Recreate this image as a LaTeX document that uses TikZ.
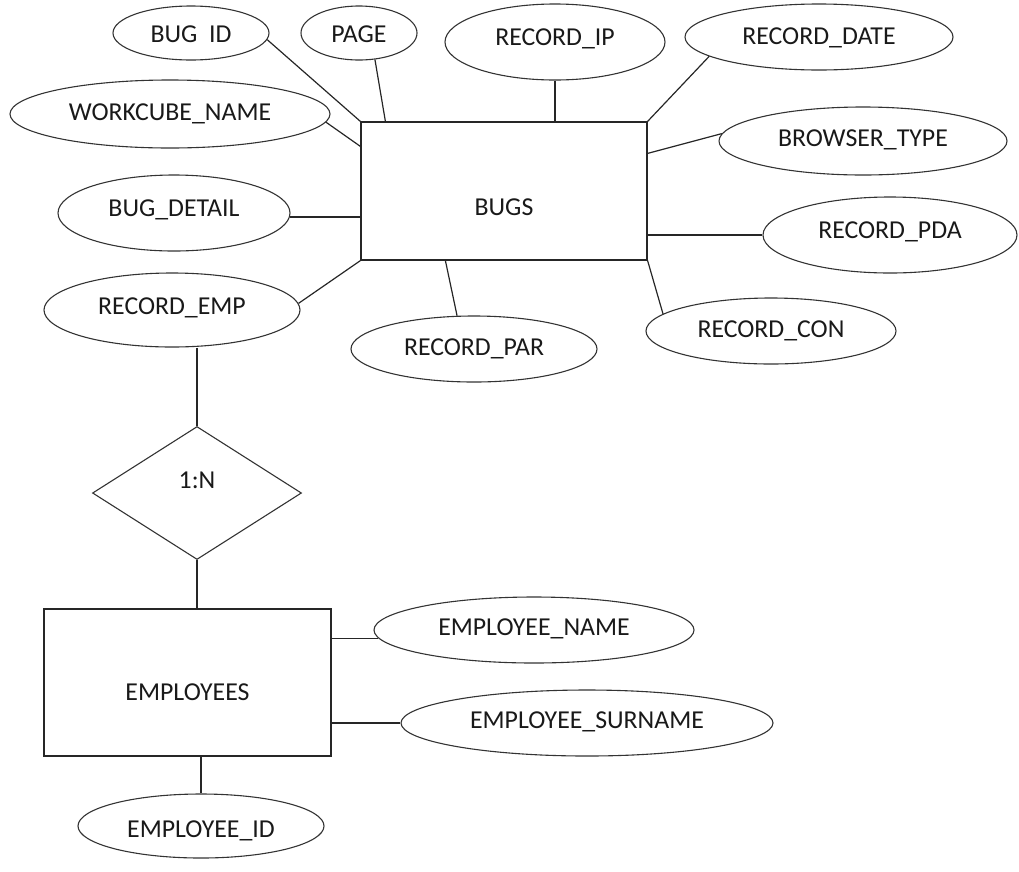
\documentclass[tikz,border=0pt]{standalone}
\usepackage{fontspec}
\setmainfont{Carlito}
\usetikzlibrary{shapes.geometric,calc}
\begin{document}
\begin{tikzpicture}[x=1pt,y=-1pt,
  every node/.style={font=\fontsize{25.8}{30}\selectfont, text=black!90},
  attr/.style={ellipse, draw=black!80, line width=1.1pt, inner sep=0pt, text height=13pt, text depth=2.3pt},
  ent/.style={rectangle, draw=black!85, line width=1.2pt, inner sep=0pt},
  rel/.style={diamond, draw=black!80, line width=1.1pt, inner sep=0pt, text height=0pt, text depth=8.3pt},
  conn/.style={draw=black!85, line width=1.2pt}]
\useasboundingbox (0,0) rectangle (1019,871);
% entities
\node[ent, minimum width=286pt, minimum height=138pt, text height=48.7pt, text depth=0pt] (bugs) at (504,191) {BUGS};
\node[ent, minimum width=287pt, minimum height=147pt, text height=36pt, text depth=0pt] (emp) at (187.5,682.5) {EMPLOYEES};
% relationship
\node[rel, minimum width=209pt, minimum height=133pt] (rel) at (197,493) {1:N};
% attributes
\node[attr, minimum width=156pt, minimum height=54pt, text height=22pt] (bugid) at (191,33) {BUG\hspace{0.45em}ID};
\node[attr, minimum width=116pt, minimum height=54pt, text height=22pt] (page) at (359,33) {PAGE};
\node[attr, minimum width=320pt, minimum height=68pt, text height=16pt] (wcn) at (170,114) {WORKCUBE\_NAME};
\node[attr, minimum width=232pt, minimum height=76pt, text height=10pt] (bd) at (174,213) {BUG\_DETAIL};
\node[attr, minimum width=256pt, minimum height=74pt, text height=12pt] (re) at (172,310) {RECORD\_EMP};
\node[attr, minimum width=246pt, minimum height=66pt, text height=16pt] (rpar) at (474,349) {RECORD\_PAR};
\node[attr, minimum width=220pt, minimum height=76pt, text height=10pt] (rip) at (555,42) {RECORD\_IP};
\node[attr, minimum width=268pt, minimum height=66pt, text height=18pt] (rdate) at (819,37) {RECORD\_DATE};
\node[attr, minimum width=288pt, minimum height=68pt] (bt) at (863,141) {BROWSER\_TYPE};
\node[attr, minimum width=254pt, minimum height=76pt, text height=10pt] (rpda) at (890,235) {RECORD\_PDA};
\node[attr, minimum width=250pt, minimum height=66pt, text height=16pt] (rcon) at (771,331) {RECORD\_CON};
\node[attr, minimum width=320pt, minimum height=66pt] (en) at (534,630) {EMPLOYEE\_NAME};
\node[attr, minimum width=372pt, minimum height=66pt] (es) at (587,723) {EMPLOYEE\_SURNAME};
\node[attr, minimum width=246pt, minimum height=64pt, text height=25pt] (eid) at (201,826) {EMPLOYEE\_ID};
% connectors
\draw[conn] (bugid.-5) -- (bugs.north west);
\draw[conn] (page.-59) -- ([xshift=25pt]bugs.north west);
\draw[conn] (wcn.-3) -- ([yshift=-25pt]bugs.north west);
\draw[conn] (bd.-2.5) -- (bugs.west |- bd.-2.5);
\draw[conn] (re.3.7) -- (bugs.south west);
\draw[conn] (rpar.117) -- ([xshift=85pt]bugs.south west);
\draw[conn] (rip.south) -- (rip.south |- bugs.north);
\draw[conn] (rdate.190) -- (bugs.north east);
\draw[conn] (bt.177.6) -- ([yshift=-32pt]bugs.north east);
\draw[conn] (rpda.west) -- (bugs.east |- rpda.west);
\draw[conn] (rcon.171.6) -- (bugs.south east);
\draw[conn] (rel.north) -- (rel.north |- re.south);
\draw[conn] (rel.south) -- (rel.south |- emp.north);
\draw[conn] (en.183) -- (emp.east |- en.183);
\draw[conn] (es.west) -- (emp.east |- es.west);
\draw[conn] (eid.north) -- (eid.north |- emp.south);
\end{tikzpicture}
\end{document}
